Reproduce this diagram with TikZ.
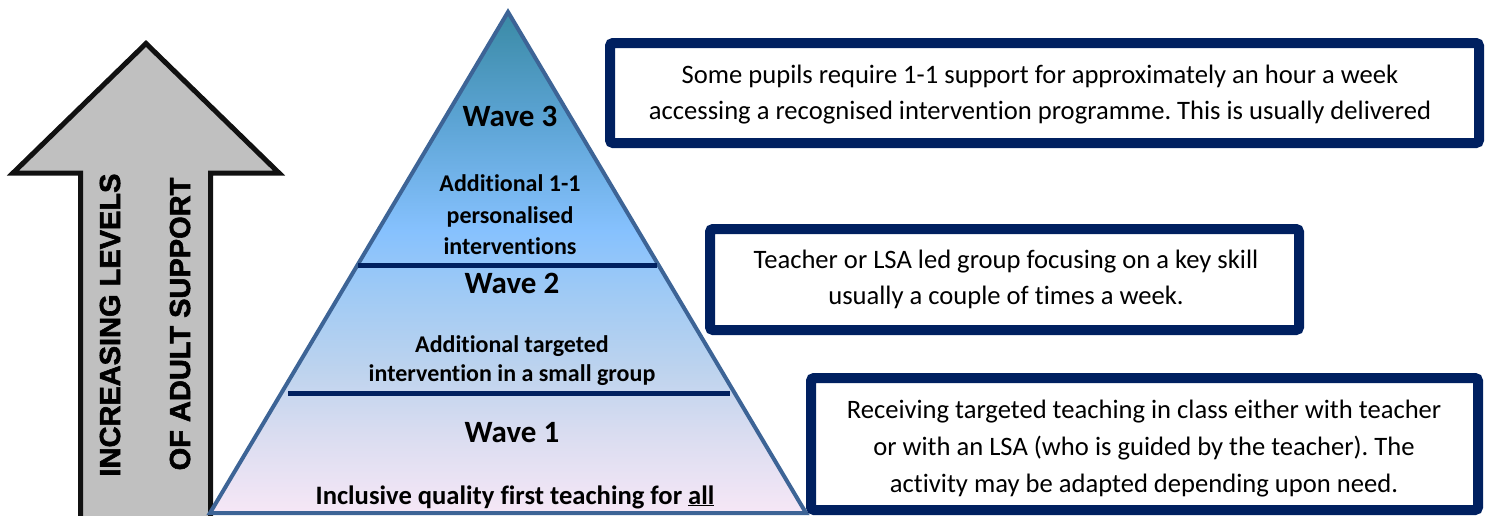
\documentclass[tikz,border=0pt]{standalone}
\usepackage{fontspec}
\setmainfont{Carlito}[Ligatures=NoCommon]
\newfontfamily\arrowfont{Liberation Sans}[FakeBold=2]
\frenchspacing
\definecolor{navy}{HTML}{002060}
\definecolor{pyrline}{HTML}{3D6496}
\definecolor{arrowgray}{HTML}{C0C0C0}
\definecolor{arrowline}{HTML}{111111}
\definecolor{pc0}{HTML}{F6E7F6}
\definecolor{pc1}{HTML}{D8DCF0}
\definecolor{pc2}{HTML}{BDD3EE}
\definecolor{pc3}{HTML}{A2CBF4}
\definecolor{pc4}{HTML}{86C1FE}
\definecolor{pc5}{HTML}{5BA3D3}
\definecolor{pc6}{HTML}{3A8AA5}
\pgfdeclareverticalshading{pyrshade}{100bp}{color(0bp)=(pc0); color(25bp)=(pc0); color(33.3bp)=(pc1); color(39.3bp)=(pc2); color(46.3bp)=(pc3); color(53.2bp)=(pc4); color(64.5bp)=(pc5); color(75bp)=(pc6); color(100bp)=(pc6)}
\begin{document}
\begin{tikzpicture}[x=1pt,y=-1pt,
  boxline/.style={draw=navy,line width=10pt,rounded corners=3pt,fill=white},
  boxtext/.style={align=center,font=\fontsize{26.6}{36}\selectfont,inner sep=0pt},
  wavetext/.style={anchor=base,inner sep=0pt,font=\bfseries\fontsize{31}{31}\selectfont},
  pyrtext/.style={align=center,inner sep=0pt,font=\bfseries\fontsize{24}{31.5}\selectfont},
  arrowtext/.style={rotate=90,anchor=base,inner sep=0pt,font=\arrowfont\bfseries\fontsize{29}{29}\selectfont},
  divider/.style={draw=navy,line width=5.5pt}]
\useasboundingbox (0,0) rectangle (1486,515);

% big upward arrow
\coordinate (tip) at (146,43.5);
\coordinate (hl) at (13,173);
\coordinate (hr) at (279,173);
\coordinate (sr) at (210.5,173);
\coordinate (sl) at (80.5,173);
\coordinate (br0) at (210.5,530);
\coordinate (bl0) at (80.5,530);
\draw[line width=5pt,fill=arrowgray,draw=arrowline,miter limit=10]
  (hl) -- (tip) -- (hr) -- (sr) -- (br0) -- (bl0) -- (sl) -- cycle;
\node[arrowtext] (inc) at (120,325) {INCREASING LEVELS};
\node[arrowtext] (adult) at (190,324) {OF ADULT SUPPORT};

% pyramid
\coordinate (apex) at (508,12);
\coordinate (pbl) at (210,513);
\coordinate (pbr) at (806,513);
\shadedraw[shading=pyrshade,draw=pyrline,line width=4pt,line join=miter]
  (apex) -- (pbr) -- (pbl) -- cycle;
\coordinate (d1l) at (358,265.5);
\coordinate (d1r) at (657,265.5);
\coordinate (d2l) at (288,393.5);
\coordinate (d2r) at (730,393.5);
\draw[divider] (d1l) -- (d1r);
\draw[divider] (d2l) -- (d2r);

\node[wavetext] (w3) at (510,126) {Wave 3};
\node[pyrtext] (w3t) at (510,215) {Additional 1-1\\personalised\\interventions};
\node[wavetext] (w2) at (512,293) {Wave 2};
\node[pyrtext,font=\bfseries\fontsize{24}{29}\selectfont] (w2t) at (512,361) {Additional targeted\\intervention in a small group};
\node[wavetext] (w1) at (512,442) {Wave 1};
\node[anchor=base,inner sep=0pt,font=\bfseries\fontsize{26.6}{30}\selectfont] (w1t) at (515,504) {Inclusive quality first teaching for \underline{all}};

% description boxes
\draw[boxline] (610,43) rectangle (1479,143);
\draw[boxline] (710,229) rectangle (1299,330);
\draw[boxline] (811,378) rectangle (1478,510);
\node[boxtext] (t1) at (1040,94.5) {Some pupils require 1-1 support for approximately an hour a week\\accessing a recognised intervention programme. This is usually delivered};
\node[boxtext] (t2) at (1006,279.5) {Teacher or LSA led group focusing on a key skill\\usually a couple of times a week.};
\node[boxtext,font=\fontsize{26.6}{37}\selectfont] (t3) at (1144,448.5) {Receiving targeted teaching in class either with teacher\\or with an LSA (who is guided by the teacher). The\\activity may be adapted depending upon need.};
\end{tikzpicture}
\end{document}
